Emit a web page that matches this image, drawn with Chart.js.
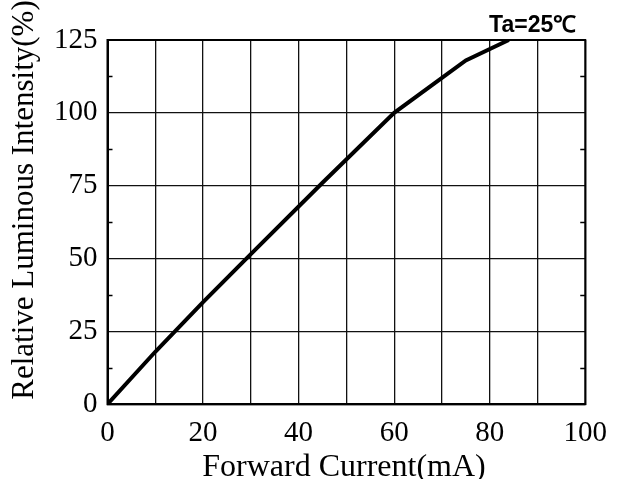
<!DOCTYPE html>
<html>
<head>
<meta charset="utf-8">
<script src="https://cdn.jsdelivr.net/npm/chart.js@4"></script>
<style>
  html, body { margin: 0; padding: 0; background: #fff; }
  #wrap { width: 619px; height: 479px; }
</style>
</head>
<body>
<div id="wrap"><canvas id="chart" width="619" height="479"></canvas></div>
<script>
// values
const currentMA = [0, 10, 20, 30, 45, 60, 70, 75, 84];
const intensity = [0, 18, 35, 51.5, 76, 100, 112, 118, 125];
const xTickLabels = [0, 20, 40, 60, 80, 100];
const yTickLabels = [0, 25, 50, 75, 100, 125];
const yMinorTicks = [12.5, 37.5, 62.5, 87.5, 112.5];
const noteText = 'Ta=25\u2103';
const xTitle = 'Forward Current(mA)';
const yTitle = 'Relative Luminous Intensity(%)';

const serif = 'Liberation Serif';

// frame, inner minor ticks, the note and both axis titles (placed by hand like the original)
const frameAndMinorTicks = {
  id: 'frameAndMinorTicks',
  afterDraw(chart) {
    const { ctx, chartArea, scales } = chart;
    ctx.save();
    ctx.strokeStyle = '#000';
    ctx.lineWidth = 1.5;
    yMinorTicks.forEach((v) => {
      const y = Math.round(scales.y.getPixelForValue(v)) + 0.5;
      ctx.beginPath();
      ctx.moveTo(chartArea.left, y);
      ctx.lineTo(chartArea.left + 5, y);
      ctx.moveTo(chartArea.right - 5, y);
      ctx.lineTo(chartArea.right, y);
      ctx.stroke();
    });
    ctx.lineWidth = 2;
    ctx.strokeRect(chartArea.left, chartArea.top, chartArea.right - chartArea.left, chartArea.bottom - chartArea.top);

    ctx.fillStyle = '#000';
    ctx.font = 'bold 23px "Liberation Sans", Arial, sans-serif';
    ctx.textAlign = 'right';
    ctx.textBaseline = 'alphabetic';
    ctx.fillText(noteText, chartArea.right - 9, chartArea.top - 8);

    ctx.font = '32px "' + serif + '"';
    ctx.textAlign = 'center';
    ctx.fillText(xTitle, 344, 476);

    ctx.translate(25, 200);
    ctx.rotate(-Math.PI / 2);
    ctx.font = '31px "' + serif + '"';
    ctx.textBaseline = 'middle';
    ctx.fillText(yTitle, 0, 0);
    ctx.restore();
  }
};

new Chart(document.getElementById('chart'), {
  type: 'line',
  data: {
    datasets: [
      {
        data: currentMA.map((x, i) => ({ x, y: intensity[i] })),
        borderColor: '#000',
        borderWidth: 4,
        pointRadius: 0,
        fill: false,
        tension: 0
      }
    ]
  },
  options: {
    responsive: false,
    animation: false,
    layout: { padding: { left: 44, right: 28, top: 40, bottom: 16 } },
    plugins: { legend: { display: false }, tooltip: { enabled: false } },
    scales: {
      x: {
        type: 'linear',
        min: 0,
        max: 100,
        border: { display: true, color: '#000', width: 2 },
        grid: { color: '#111', lineWidth: 1.3, drawTicks: false },
        ticks: {
          stepSize: 10,
          color: '#000',
          padding: 12,
          maxRotation: 0,
          font: { family: serif, size: 29 },
          callback: (v) => (xTickLabels.includes(v) ? v : '')
        }
      },
      y: {
        min: 0,
        max: 125,
        border: { display: true, color: '#000', width: 2 },
        grid: {
          drawTicks: false,
          lineWidth: 1.3,
          color: (c) => (yTickLabels.includes(c.tick.value) ? '#111' : 'rgba(0,0,0,0)')
        },
        ticks: {
          stepSize: 12.5,
          color: '#000',
          padding: 10,
          font: { family: serif, size: 29 },
          callback: (v) => (yTickLabels.includes(v) ? v : '')
        }
      }
    }
  },
  plugins: [frameAndMinorTicks]
});
</script>
</body>
</html>
